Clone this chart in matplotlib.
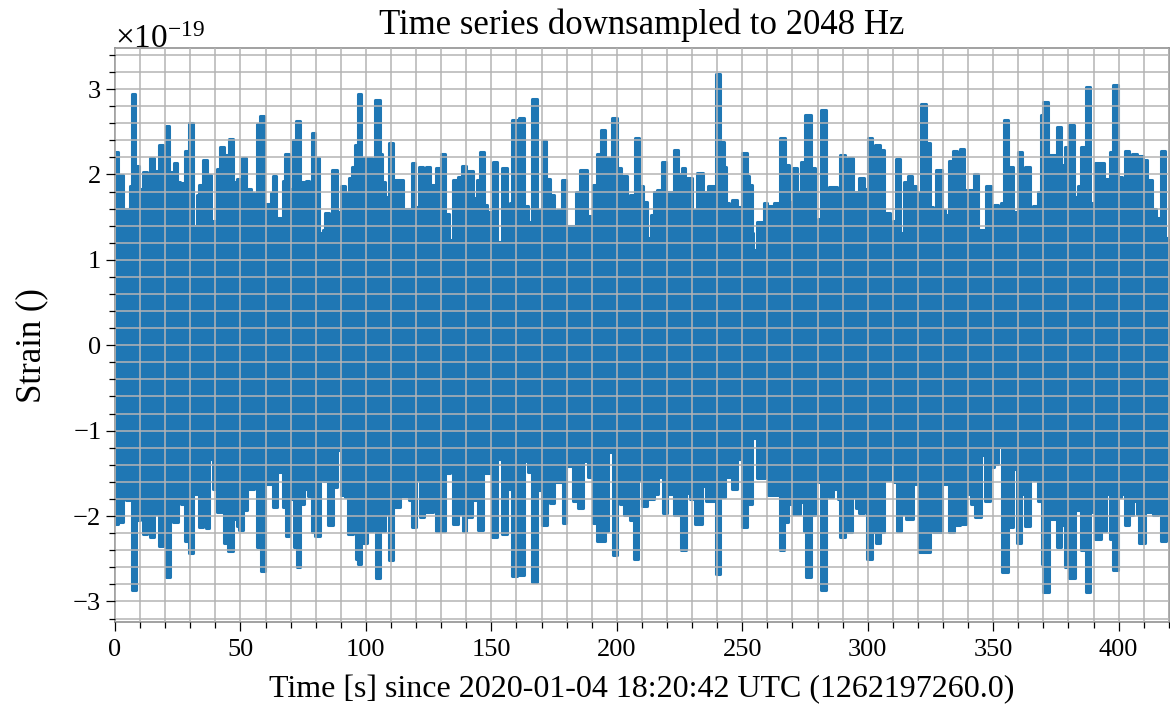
import matplotlib
matplotlib.use("Agg")
import matplotlib.pyplot as plt
import matplotlib.transforms as mtransforms
import numpy as np
from matplotlib.ticker import MultipleLocator, ScalarFormatter

# Envelope of the strain time series (units of 1e-19).
# Each value holds from its start time until the next start time.
upper_t = [0, 1.3, 3, 6, 6.8, 8, 9.5, 11, 12.6, 13.9, 15.5, 16.5, 17.7, 19, 20.3, 21.6,
           23.5, 24.8, 26, 26.7, 28, 29.3, 30.9, 32.5, 33.6, 35.2, 36.8, 38.1, 39.2,
           40.5, 41.8, 43.4, 45.3, 46.9, 48.5, 49.8, 50.6, 52.2, 54.1, 55.4, 56.4,
           57.8, 59.4, 62, 63, 64.2, 66.8, 67.9, 69.2, 71.1, 72.1, 73.7, 75.3, 76.1,
           77.4, 78.5, 79.8, 81.4, 82.7, 83.5, 85.1, 86.5, 88.3, 89.9, 91.8, 93.1,
           94.4, 95.8, 96.8, 97.9, 99, 102.4, 103.7, 105.6, 106.6, 107.7, 109, 110.6,
           111.7, 114.7, 118.4, 119.6, 121.3, 122.9, 124, 125.6, 127.2, 128, 129.8,
           131.4, 133.3, 134.6, 136.5, 138.2, 140, 140.8, 142.6, 144.2, 145.5, 147.1,
           148.4, 150.5, 152.4, 154.1, 156.1, 157.5, 158.4, 160.1, 161, 163, 164.4,
           166.2, 168.1, 170, 171.7, 173.2, 175, 176, 178.1, 179.8, 183.7, 185.3, 188,
           190.4, 192, 193.6, 195.3, 197, 198.1, 200, 201.5, 202.3, 204.2, 205.2,
           207.1, 208.7, 210.6, 211.9, 213.5, 214.8, 216, 218.2, 219.7, 222.9, 224.4,
           226, 227.3, 228, 229.9, 231.8, 234.4, 235.7, 236.4, 238.7, 239.5, 241.1,
           242.6, 243.7, 244.8, 246, 248, 250, 251.7, 252.7, 253.8, 254.3, 256, 257.7,
           258.6, 260, 262.6, 265.2, 267, 268.7, 270.3, 271.9, 273.6, 275, 277.2, 279,
           280.2, 281.2, 283.3, 284.6, 287.8, 289.1, 290.9, 292.2, 294, 296.6, 298.4,
           300.2, 301.5, 303, 305, 306.4, 308.8, 309.9, 311.4, 313, 314.4, 316, 317.8,
           319.4, 321.4, 323.4, 324.7, 326, 327.4, 329.4, 330.7, 332.4, 334, 335.6,
           336.7, 338.5, 342.3, 344, 347.3, 349, 350.5, 351.9, 353.2, 354.5, 355.9,
           357.8, 359.8, 361.6, 362.6, 364.5, 365.8, 367.8, 369.1, 370, 371.8, 375.4,
           377.1, 378.8, 380.4, 382.4, 383.7, 385, 386.8, 388.7, 390.4, 394, 396.6,
           397.7, 399.7, 401.4, 402.7, 404.3, 405.4, 407.3, 408.3, 409.6, 411.2, 413.4,
           415, 417, 418.5]
upper = [2.26, 1.99, 1.6, 1.87, 2.94, 2.1, 1.83, 2.03, 1.89, 2.19, 1.77, 2.04, 2.34, 2.02,
         2.57, 2.03, 2.13, 1.91, 1.76, 1.9, 2.28, 2.6, 1.4, 1.76, 1.88, 2.17, 1.99, 1.29,
         1.46, 2.06, 2.32, 2.23, 2.41, 1.91, 1.95, 1.68, 2.19, 1.83, 1.78, 1.56, 2.59,
         2.68, 1.65, 1.78, 1.98, 1.49, 1.92, 2.24, 1.83, 2.4, 2.62, 1.91, 1.63, 1.92,
         1.78, 2.49, 2.19, 1.31, 1.35, 1.55, 1.25, 2.05, 1.56, 1.86, 1.78, 1.96, 2.09,
         2.34, 2.94, 1.66, 2.19, 2.13, 2.87, 2.24, 1.91, 1.74, 2.37, 1.68, 1.93, 1.6,
         2.13, 1.62, 2.09, 1.74, 2.09, 1.88, 1.73, 2.07, 2.24, 1.54, 1.23, 1.93, 1.97,
         2.1, 1.74, 2.04, 1.72, 1.93, 2.26, 1.64, 1.56, 2.15, 1.21, 2.08, 1.6, 1.66,
         2.64, 2.54, 2.66, 1.63, 1.44, 2.88, 1.58, 2.39, 1.95, 1.76, 1.34, 1.58, 1.93,
         1.4, 1.79, 2.05, 1.51, 1.88, 2.24, 2.52, 2.19, 1.31, 2.66, 2.07, 1.7, 1.98,
         1.59, 1.76, 2.43, 1.86, 1.68, 1.25, 1.52, 1.79, 1.82, 2.15, 1.79, 2.29, 2.0,
         2.08, 1.74, 1.96, 1.58, 2.02, 1.79, 1.6, 1.86, 1.62, 3.18, 2.38, 2.09, 1.66,
         1.44, 1.7, 1.62, 2.25, 1.98, 1.88, 1.31, 1.12, 1.44, 1.27, 1.67, 1.63, 1.67,
         2.43, 2.11, 1.68, 2.07, 1.79, 2.14, 2.69, 2.07, 1.31, 1.48, 2.75, 1.48, 1.85,
         1.25, 2.23, 1.71, 2.19, 1.79, 1.96, 1.83, 2.43, 1.91, 2.35, 2.29, 1.55, 1.3,
         1.46, 2.18, 1.31, 1.91, 1.98, 1.86, 1.78, 2.83, 2.37, 1.62, 1.05, 2.05, 1.58,
         1.52, 2.16, 2.28, 1.85, 2.3, 1.82, 2.0, 1.35, 1.86, 1.32, 1.64, 1.23, 1.66,
         2.64, 2.09, 1.56, 2.26, 1.51, 2.09, 1.29, 1.63, 1.79, 2.69, 2.85, 2.23, 2.55,
         2.11, 2.32, 2.58, 1.74, 1.87, 2.32, 3.02, 1.67, 2.13, 1.95, 2.26, 3.05, 1.97,
         1.66, 2.28, 1.44, 2.24, 1.43, 2.21, 2.17, 1.94, 1.6, 1.49, 2.27, 1.25]

lower_t = [0, 1.3, 3, 4.4, 6, 6.6, 8.2, 10, 11, 12.6, 13.9, 15.5, 17.4, 19.3, 20.3, 21.9,
           23, 25.2, 26.2, 28, 29.3, 31, 33.6, 35.2, 36.3, 37.6, 39.2, 40.8, 43.4, 45,
           46.9, 48.5, 49.5, 51.1, 52.5, 55.4, 56.4, 58, 59.8, 62.8, 64.4, 66.8, 68,
           69.5, 71.3, 72.4, 73.7, 75.3, 77, 78.4, 79.7, 81.7, 83, 85, 86.7, 88.6, 89.9,
           91.8, 93, 94.7, 96, 97, 98.1, 98.9, 100.5, 102.7, 104, 105.8, 107.6, 109,
           110.6, 113.6, 117.3, 118.3, 120, 121.6, 123.2, 126.6, 128, 131.6, 133.5,
           134.9, 136.7, 138.6, 140, 142.3, 144.8, 146.8, 150.1, 152.4, 154.1, 156.1,
           158.1, 160.1, 161, 163, 164.4, 166.2, 168, 170, 172, 173.4, 175, 178.4, 179.8,
           182.4, 184.7, 186.7, 188.7, 190.4, 192, 195.3, 196.6, 198.4, 200, 201.3,
           202.9, 205.3, 206.9, 208.6, 210, 211.9, 213, 214.8, 216.5, 218.3, 219.9,
           222.8, 225.4, 227.6, 229, 231.2, 233.8, 235.7, 238.7, 239.5, 241.3, 243, 246,
           248, 250, 251.7, 253.7, 256, 259, 260.3, 265, 266.6, 268.3, 270.3, 273, 274.5,
           275.5, 277.2, 279, 280.2, 281.2, 283.3, 284.6, 286.2, 288.2, 289.1, 290.9,
           292.2, 293.9, 295.2, 296.6, 298.4, 299.8, 301.5, 303.2, 304.8, 306.4, 308.8,
           310.4, 311.5, 313.4, 315.4, 318, 320.6, 324.7, 326.1, 329.4, 332.4, 334.3,
           336.7, 339.3, 341, 342.7, 345, 346.6, 348.6, 350.2, 352, 353.6, 355.9, 357.8,
           359.4, 361.2, 362.5, 364.5, 366, 367.8, 369.5, 370, 372.2, 375.4, 377.1,
           378.7, 380.4, 382.8, 385, 387, 388.7, 390.4, 393, 394.8, 396.6, 397.7, 399.7,
           401, 402.7, 404.3, 405.6, 407.2, 408.3, 410.7, 413.6, 415.6, 417, 418.7]
lower = [-2.09, -2.07, -1.56, -1.81, -1.74, -2.87, -2.05, -1.39, -2.21, -1.62, -2.24,
         -1.97, -2.35, -2.11, -2.71, -1.95, -2.07, -1.7, -1.86, -2.29, -2.43, -1.74,
         -2.13, -1.85, -2.14, -1.33, -1.68, -1.95, -2.32, -2.41, -2.04, -2.12, -2.16,
         -1.93, -1.68, -1.5, -2.36, -2.64, -1.62, -1.89, -1.48, -1.89, -2.23, -1.8,
         -2.36, -2.6, -1.86, -1.68, -1.76, -2.19, -2.23, -1.17, -1.59, -2.1, -1.66,
         -1.23, -1.75, -1.78, -2.21, -1.86, -2.5, -2.56, -1.66, -2.32, -2.17, -1.86,
         -2.73, -2.17, -1.97, -2.51, -1.89, -1.76, -1.81, -2.13, -1.58, -2.01, -1.95,
         -1.69, -2.18, -1.5, -1.29, -2.09, -1.97, -2.18, -2.01, -1.81, -2.16, -1.5,
         -2.25, -1.33, -2.21, -1.68, -2.7, -2.4, -2.69, -1.35, -1.48, -2.77, -1.7,
         -2.11, -1.62, -1.85, -1.6, -2.08, -1.41, -1.82, -1.9, -1.35, -1.54, -2.08,
         -2.29, -2.17, -1.25, -2.46, -1.7, -1.86, -1.99, -2.05, -2.5, -1.58, -1.88,
         -1.39, -1.8, -1.74, -1.54, -1.96, -1.74, -1.99, -2.4, -1.73, -1.8, -2.09,
         -1.65, -1.82, -1.6, -2.68, -1.78, -1.54, -1.68, -1.33, -2.13, -1.86, -1.09,
         -1.56, -1.35, -1.75, -2.4, -2.07, -1.86, -1.97, -1.84, -2.17, -2.71, -1.99,
         -1.39, -1.6, -2.86, -1.39, -1.78, -1.68, -1.8, -2.25, -1.8, -2.19, -1.78,
         -1.91, -1.96, -1.62, -2.5, -2.19, -2.32, -2.19, -1.58, -1.37, -1.6, -2.18,
         -1.97, -2.03, -1.62, -2.42, -1.15, -2.19, -1.62, -2.19, -2.11, -2.09, -1.74,
         -1.86, -2.01, -1.29, -1.82, -1.43, -1.39, -1.19, -2.66, -2.13, -1.45, -2.32,
         -1.74, -2.12, -1.56, -1.58, -1.82, -2.56, -2.89, -2.03, -2.36, -2.1, -2.6,
         -2.73, -1.93, -2.4, -2.89, -1.95, -2.27, -2.17, -1.74, -2.27, -2.63, -1.78,
         -1.74, -2.1, -1.99, -1.82, -1.97, -2.32, -1.95, -1.99, -1.7, -2.29, -1.54]

duration = 420.0
scale = 1e-19

title = "Time series downsampled to 2048 Hz"
xlabel = "Time [s] since 2020-01-04 18:20:42 UTC (1262197260.0)"
ylabel = "Strain ()"

plt.rcParams["font.family"] = ["Liberation Serif", "DejaVu Serif"]
plt.rcParams["mathtext.fontset"] = "custom"
plt.rcParams["mathtext.rm"] = "Liberation Serif"
plt.rcParams["mathtext.it"] = "Liberation Serif:italic"
plt.rcParams["axes.unicode_minus"] = True

color = "#1f77b4"

fig = plt.figure(figsize=(11.7, 7.06), dpi=100)
ax = fig.add_axes([0.0983, 0.119, 0.9007, 0.813])

for ts, vals in ((upper_t, upper), (lower_t, lower)):
    edges = np.append(np.array(ts), duration)
    v = np.append(np.array(vals), vals[-1]) * scale
    ax.fill_between(edges, 0, v, step="post", color=color, linewidth=0)
    ax.plot(edges, v, drawstyle="steps-post", color=color, lw=2.2,
            solid_capstyle="round", solid_joinstyle="round")

ax.set_xlim(0, duration)
ax.set_ylim(-3.24e-19, 3.48e-19)

ax.xaxis.set_major_locator(MultipleLocator(50))
ax.xaxis.set_minor_locator(MultipleLocator(10))
ax.yaxis.set_major_locator(MultipleLocator(1e-19))
ax.yaxis.set_minor_locator(MultipleLocator(0.2e-19))
ax.yaxis.set_major_formatter(ScalarFormatter(useMathText=True))

ax.set_axisbelow(False)
ax.grid(True, which="both", color="#b4b4b4", lw=1.1)

ax.tick_params(which="both", direction="out", top=False, right=False,
               labelsize=19, color="black")
ax.tick_params(axis="x", which="major", pad=5.5)
ax.tick_params(which="major", length=6.5, width=0.9)
ax.tick_params(which="minor", length=4.5, width=0.9)
for sp in ax.spines.values():
    sp.set_color("#888888")
    sp.set_linewidth(1.1)

# nudge the x10^-19 multiplier down a little so it stays inside the canvas
offset = ax.yaxis.get_offset_text()
offset.set_fontsize(24)
offset.set_transform(offset.get_transform()
                     + mtransforms.ScaledTranslation(0, -3 / 72, fig.dpi_scale_trans))

ax.set_title(title, fontsize=25, pad=10)
ax.set_xlabel(xlabel, fontsize=23, labelpad=10)
ax.set_ylabel(ylabel, fontsize=25)
ax.yaxis.set_label_coords(-0.0636, 0.481)

fig.savefig("out.png", dpi=100)
